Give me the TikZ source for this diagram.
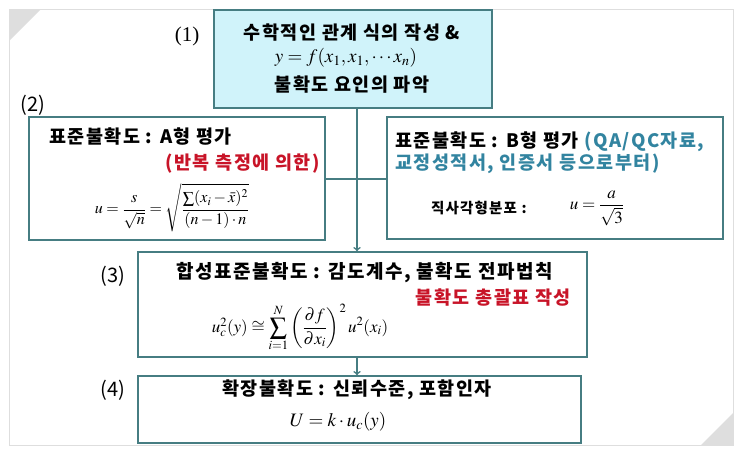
\documentclass[tikz,border=0pt]{standalone}
\usepackage{amsmath}
\usepackage{mathptmx}
\usepackage[no-math]{fontspec}
\setmainfont{Liberation Serif}
\newfontfamily\kr{Noto Sans CJK KR}[LetterSpace=8]
\newfontfamily\krplain{Noto Sans CJK KR}
\usetikzlibrary{arrows, positioning}

\definecolor{boxline}{RGB}{70,125,130}
\definecolor{boxfill}{RGB}{208,243,250}
\definecolor{redtxt}{RGB}{200,20,40}
\definecolor{bluetxt}{RGB}{50,132,160}
\definecolor{framegray}{RGB}{222,222,222}

\tikzset{
    box/.style={draw=boxline, line width=1.6pt, inner sep=0pt},
    head/.style={font=\kr\bfseries\fontsize{18.5}{21}\selectfont, inner sep=0pt},
    note/.style={font=\kr\bfseries\fontsize{14.5}{17}\selectfont, inner sep=0pt},
    stepno/.style={font=\krplain\fontsize{20}{22}\selectfont, inner sep=0pt},
    formula/.style={font=\fontsize{16}{19}\selectfont, inner sep=0pt},
    link/.style={draw=boxline, line width=1.6pt}
}

\begin{document}
\begin{tikzpicture}[x=1pt, y=-1pt, >=to]
            \useasboundingbox (0,0) rectangle (743,455);
            \draw[framegray, line width=1pt] (9,9) rectangle (733,445);
            \fill[framegray] (9,9) -- (41,9) -- (9,41) -- cycle;
            \fill[framegray] (733,445) -- (701,445) -- (733,413) -- cycle;

            \node[box, fill=boxfill, minimum width=278pt, minimum height=98pt] (relation) at (353,59) {};
            \node[box, minimum width=296pt, minimum height=123pt] (typeA) at (177,178.5) {};
            \node[box, minimum width=336pt, minimum height=122pt] (typeB) at (555,178) {};
            \node[box, minimum width=449pt, minimum height=105pt] (combined) at (362.5,304.5) {};
            \node[box, minimum width=443pt, minimum height=67pt] (expanded) at (359.5,409.5) {};
            \coordinate (joint) at (357,179);

            \node[stepno, font=\rmfamily\fontsize{21}{23}\selectfont] (n1) at (187,36) {(1)};
            \node[stepno] (n2) at (33,105) {(2)};
            \node[stepno] (n3) at (113,276) {(3)};
            \node[stepno] (n4) at (113,390) {(4)};

            \node[head] (rel1) at (352,33) {수학적인 관계 식의 작성 \&};
            \node[formula, font=\fontsize{19}{21}\selectfont] (relf) at (346,58) {$y=f(x_1,x_1,\cdots x_n)$};
            \node[head] (rel2) at (352,85) {불확도 요인의 파악};

            \node[head, anchor=west] (a1) at (49,137) {표준불확도 : A형 평가};
            \node[head, anchor=east, text=redtxt] (a2) at (320,164) {(반복 측정에 의한)};
            \node[formula] (af) at (172,208) {$u=\dfrac{s}{\sqrt{n}}=\sqrt{\dfrac{\sum(x_i-\bar{x})^2}{(n-1)\cdot n}}$};

            \node[head, anchor=west] (b1) at (395,142) {표준불확도 : B형 평가 \textcolor{bluetxt}{(QA/QC자료,}};
            \node[head, anchor=west, text=bluetxt] (b2) at (395,164) {교정성적서, 인증서 등으로부터)};
            \node[note, anchor=west] (b3) at (431,208) {직사각형분포 :};
            \node[formula, font=\fontsize{17}{19}\selectfont] (bf) at (597,208) {$u=\dfrac{a}{\sqrt{3}}$};

            \node[head, font=\kr\bfseries\fontsize{19}{21}\selectfont] (c1) at (364.5,273) {합성표준불확도 : 감도계수, 불확도 전파법칙};
            \node[head, anchor=east, text=redtxt] (c2) at (571,298) {불확도 총괄표 작성};
            \node[formula, font=\fontsize{17}{19}\selectfont] (cf) at (300,328) {$u_c^2(y)\cong\displaystyle\sum_{i=1}^{N}\left(\frac{\partial f}{\partial x_i}\right)^{2}u^2(x_i)$};

            \node[head] (d1) at (357,390) {확장불확도 : 신뢰수준, 포함인자};
            \node[formula, font=\fontsize{19}{21}\selectfont] (df) at (338,422) {$U=k\cdot u_c(y)$};

            \draw[link] (relation.south -| joint) -- (joint);
            \draw[link, ->] (joint) -- (joint |- combined.north);
            \draw[link] (typeA.east |- joint) -- (typeB.west |- joint);
            \draw[link, ->] (combined.south -| joint) -- (joint |- expanded.north);
        \end{tikzpicture}
\end{document}
